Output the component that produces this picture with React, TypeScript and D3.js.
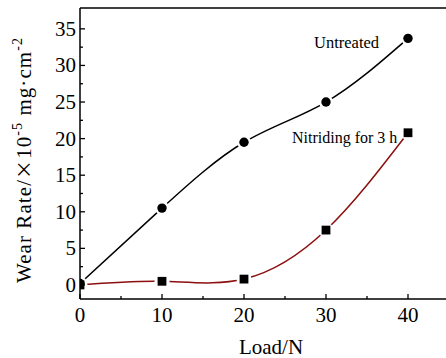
import React from "react";
import * as d3 from "d3";

const loads = [0, 10, 20, 30, 40];
const untreated = [0.2, 10.5, 19.5, 25.0, 33.7];
const nitrided = [0.0, 0.5, 0.8, 7.5, 20.8];
const xTicks = [0, 10, 20, 30, 40];
const xMinor = [5, 15, 25, 35];
const yTicks = [0, 5, 10, 15, 20, 25, 30, 35];
const yMinor = [2.5, 7.5, 12.5, 17.5, 22.5, 27.5, 32.5];

const W = 446, H = 358;
const L = 80, R = 449, T = 8, B = 299;
const FONT = "'Liberation Serif', 'Times New Roman', serif";

export default function App() {
  const x = d3.scaleLinear().domain([0, 45]).range([L, R]);
  const y = d3.scaleLinear().domain([-1.92, 37.85]).range([B, T]);
  const line = d3.line<number>().x((_, i) => x(loads[i])).y((v) => y(v)).curve(d3.curveNatural);
  const pathU = line(untreated) || "";
  const pathN = line(nitrided) || "";
  return (
    <svg width={W} height={H} style={{ position: "absolute", left: 0, top: 0, background: "#fff" }}>
      <defs>
        <clipPath id="plotClip">
          <rect x={L} y={T} width={R - L} height={B - T} />
        </clipPath>
        <mask id="gapU" maskUnits="userSpaceOnUse" x={0} y={0} width={W} height={H}>
          <rect x={0} y={0} width={W} height={H} fill="#fff" />
          {loads.map((l, i) => (
            <circle key={i} cx={x(l)} cy={y(untreated[i])} r={7} fill="#000" />
          ))}
        </mask>
        <mask id="gapN" maskUnits="userSpaceOnUse" x={0} y={0} width={W} height={H}>
          <rect x={0} y={0} width={W} height={H} fill="#fff" />
          {loads.map((l, i) => (
            <circle key={i} cx={x(l)} cy={y(nitrided[i])} r={7.5} fill="#000" />
          ))}
        </mask>
      </defs>
      {/* curves */}
      <g clipPath="url(#plotClip)">
        <path d={pathU} fill="none" stroke="#000" strokeWidth={1.5} mask="url(#gapU)" />
        <path d={pathN} fill="none" stroke="#8b0f0f" strokeWidth={1.5} mask="url(#gapN)" />
        {loads.map((l, i) => (
          <circle key={"cu" + i} cx={x(l)} cy={y(untreated[i])} r={4.7} fill="#000" />
        ))}
        {loads.map((l, i) => (
          <rect key={"sn" + i} x={x(l) - 4.4} y={y(nitrided[i]) - 4.4} width={8.8} height={8.8} fill="#000" />
        ))}
      </g>
      {/* frame */}
      <line x1={L} x2={W} y1={T} y2={T} stroke="#000" strokeWidth={1.5} />
      <line x1={L} x2={L} y1={T} y2={B} stroke="#000" strokeWidth={1.5} />
      <line x1={L} x2={W} y1={B} y2={B} stroke="#000" strokeWidth={1.5} />
      {/* x ticks */}
      {xTicks.map((t) => (
        <g key={"x" + t}>
          <line x1={x(t)} x2={x(t)} y1={B} y2={B - 5} stroke="#000" strokeWidth={1.3} />
          <text x={x(t)} y={322} textAnchor="middle" fontFamily={FONT} fontSize={21}>{t}</text>
        </g>
      ))}
      {xMinor.map((t) => (
        <line key={"xm" + t} x1={x(t)} x2={x(t)} y1={B} y2={B - 3} stroke="#000" strokeWidth={1.3} />
      ))}
      {/* y ticks */}
      {yTicks.map((t) => (
        <g key={"y" + t}>
          <line x1={L} x2={L + 5} y1={y(t)} y2={y(t)} stroke="#000" strokeWidth={1.3} />
          <text x={76} y={y(t) + 7} textAnchor="end" fontFamily={FONT} fontSize={21}>{t}</text>
        </g>
      ))}
      {yMinor.map((t) => (
        <line key={"ym" + t} x1={L} x2={L + 3} y1={y(t)} y2={y(t)} stroke="#000" strokeWidth={1.3} />
      ))}
      {/* annotations */}
      <text x={314} y={48} fontFamily={FONT} fontSize={16.5}>Untreated</text>
      <text x={292} y={143} fontFamily={FONT} fontSize={16}>Nitriding for 3 h</text>
      {/* axis titles */}
      <text x={271} y={354} textAnchor="middle" fontFamily={FONT} fontSize={21}>Load/N</text>
      <text transform="translate(31,283) rotate(-90)" fontFamily={FONT} fontSize={21}
        textLength={245} lengthAdjust="spacing">
        Wear Rate/
        <tspan fontFamily="'Noto Sans CJK SC', sans-serif" fontSize={19}>×</tspan>
        10
        <tspan fontSize={14} dy={-9}>-5</tspan>
        <tspan dy={9}> mg·cm</tspan>
        <tspan fontSize={14} dy={-9}>-2</tspan>
      </text>
    </svg>
  );
}
